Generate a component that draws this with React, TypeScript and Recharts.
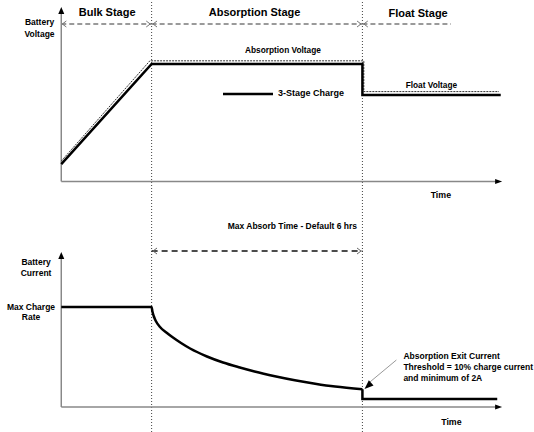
import React from 'react';
import { LineChart, Line, XAxis, YAxis, ReferenceLine, ReferenceDot, Legend } from 'recharts';

// ---------- data ----------
const stageNames = ['Bulk Stage', 'Absorption Stage', 'Float Stage'];
const stageBoundaryHours = [2.58, 8.6];

// battery voltage, 3-stage charge (V)
const voltageHours = [0, 2.58, 8.6, 8.6, 12.55];
const voltageValues = [11.5, 14.4, 14.4, 13.5, 13.5];

// voltage set point (dashed reference: absorption / float voltage)
const setpointHours = [0, 2.53, 8.64, 8.64, 12.5];
const setpointValues = [11.59, 14.49, 14.49, 13.6, 13.6];

// battery current (% of max charge rate)
const currentHours = [0, 2.58, 2.6, 2.64, 2.7, 2.82, 3.0, 3.19, 3.42, 3.68, 4.16, 4.62, 5.1, 5.52, 6.1, 6.67, 7.25, 7.82, 8.6, 8.6, 12.45];
const currentValues = [100, 100, 96, 91, 86, 80, 74.5, 69.5, 64, 58.5, 50.5, 44.5, 39.5, 35.5, 30.8, 26.8, 23.3, 20.4, 17.7, 8, 8];

const seriesName = '3-Stage Charge';
const voltageAxisLabel = ['Battery', 'Voltage'];
const currentAxisLabel = ['Battery', 'Current'];
const currentTickLabel = ['Max Charge', 'Rate'];
const timeLabel = 'Time';
const absorptionVoltageLabel = 'Absorption Voltage';
const floatVoltageLabel = 'Float Voltage';
const maxAbsorbLabel = 'Max Absorb Time - Default 6 hrs';
const exitCurrentLabel = ['Absorption Exit Current', 'Threshold = 10% charge current', 'and minimum of 2A'];

const voltageData = voltageHours.map((t, i) => ({ t, v: voltageValues[i] }));
const setpointData = setpointHours.map((t, i) => ({ t, v: setpointValues[i] }));
const currentData = currentHours.map((t, i) => ({ t, c: currentValues[i] }));
// split at the drop to float so the decay can be drawn smooth and the step sharp
const dropIndex = currentHours.findIndex((t, i) => i > 0 && t === currentHours[i - 1]);
const currentDecay = currentData.slice(0, dropIndex);
const currentFloat = currentData.slice(dropIndex - 1);

// ---------- layout (data units) ----------
const T_DOMAIN: [number, number] = [-1.75, 13.5];
const V_DOMAIN: [number, number] = [3.75, 16.25];
const I_DOMAIN: [number, number] = [-25, 407];
const V_ORIGIN = 11.0;
const V_TOP = 16.05;
const I_TOP = 155;
const T_END = 12.59;
const STAGE_ROW_V = 15.556;
const STAGE_ROW_END = 11.13;
const ABSORB_ROW_I = 156;

const FONT = '"Liberation Sans", Arial, Helvetica, sans-serif';

const textShape = (lines: string[], size: number, anchor: string = 'middle', lh: number = 11) => (p: any) => (
  <text x={p.cx} y={p.cy} textAnchor={anchor} fontFamily={FONT} fontWeight="bold" fontSize={size} fill="#000">
    {lines.map((l, i) => (
      <tspan key={i} x={p.cx} dy={i === 0 ? 0 : lh}>{l}</tspan>
    ))}
  </text>
);

const triUp = (p: any) => (
  <polygon points={`${p.cx},${p.cy} ${p.cx - 3},${p.cy + 7} ${p.cx + 3},${p.cy + 7}`} fill="#000" />
);
const triRight = (p: any) => (
  <polygon points={`${p.cx},${p.cy} ${p.cx - 7},${p.cy - 2.5} ${p.cx - 7},${p.cy + 2.5}`} fill="#000" />
);
const chevron = (dir: 'left' | 'right', color: string) => (p: any) => {
  const s = dir === 'left' ? 1 : -1;
  return (
    <polyline
      points={`${p.cx + s * 4},${p.cy - 3} ${p.cx},${p.cy} ${p.cx + s * 4},${p.cy + 3}`}
      fill="none"
      stroke={color}
      strokeWidth={1}
    />
  );
};
const pointer = (angle: number) => (p: any) => (
  <polygon points="0,0 -9,-3.5 -9,3.5" fill="#000" transform={`translate(${p.cx},${p.cy}) rotate(${angle})`} />
);

const renderLegend = (props: any) => {
  const items = (props.payload || []).filter((it: any) => it.type !== 'none');
  return (
    <div style={{ display: 'flex', alignItems: 'center' }}>
      {items.map((it: any) => (
        <div key={it.value} style={{ display: 'flex', alignItems: 'center' }}>
          <svg width={50} height={6} style={{ display: 'block' }}>
            <line x1={0} y1={3} x2={50} y2={3} stroke={it.color} strokeWidth={2.5} />
          </svg>
          <span style={{ marginLeft: 5, fontFamily: FONT, fontWeight: 'bold', fontSize: 9, color: '#000', lineHeight: '11px', whiteSpace: 'nowrap' }}>
            {it.value}
          </span>
        </div>
      ))}
    </div>
  );
};

const AXIS = '#888';

export default function App() {
  const stageMid = [
    (0 + stageBoundaryHours[0]) / 2 + 0.02,
    (stageBoundaryHours[0] + stageBoundaryHours[1]) / 2 - 0.07,
    10.19,
  ];
  const stageBase = [15.8, 15.78, 15.75];
  return (
    <div style={{ position: 'absolute', left: 0, top: 0, width: 534, height: 432, background: '#fff' }}>
      <LineChart width={534} height={432} margin={{ top: 0, right: 0, bottom: 0, left: 0 }}>
        <XAxis type="number" dataKey="t" domain={T_DOMAIN} allowDataOverflow hide />
        <YAxis yAxisId="v" type="number" domain={V_DOMAIN} allowDataOverflow hide />
        <YAxis yAxisId="i" type="number" domain={I_DOMAIN} allowDataOverflow hide />

        {/* stage boundaries */}
        {stageBoundaryHours.map((t) => (
          <ReferenceLine key={t} x={t} yAxisId="v" stroke="#444" strokeWidth={1} strokeDasharray="1 2" />
        ))}

        {/* stage arrows row */}
        <ReferenceLine yAxisId="v" segment={[{ x: 0, y: STAGE_ROW_V }, { x: stageBoundaryHours[0], y: STAGE_ROW_V }]} stroke="#7a7a7a" strokeWidth={1.5} strokeDasharray="5 3" />
        <ReferenceLine yAxisId="v" segment={[{ x: stageBoundaryHours[0], y: STAGE_ROW_V }, { x: stageBoundaryHours[1], y: STAGE_ROW_V }]} stroke="#7a7a7a" strokeWidth={1.5} strokeDasharray="5 3" />
        <ReferenceLine yAxisId="v" segment={[{ x: stageBoundaryHours[1], y: STAGE_ROW_V }, { x: STAGE_ROW_END, y: STAGE_ROW_V }]} stroke="#7a7a7a" strokeWidth={1.5} strokeDasharray="5 3" />
        <ReferenceDot yAxisId="v" x={0.03} y={STAGE_ROW_V} shape={chevron('left', '#777')} />
        <ReferenceDot yAxisId="v" x={stageBoundaryHours[0] - 0.04} y={STAGE_ROW_V} shape={chevron('right', '#777')} />
        <ReferenceDot yAxisId="v" x={stageBoundaryHours[0] + 0.04} y={STAGE_ROW_V} shape={chevron('left', '#777')} />
        <ReferenceDot yAxisId="v" x={stageBoundaryHours[1] - 0.04} y={STAGE_ROW_V} shape={chevron('right', '#777')} />
        <ReferenceDot yAxisId="v" x={stageBoundaryHours[1] + 0.04} y={STAGE_ROW_V} shape={chevron('left', '#777')} />

        {stageNames.map((n, i) => (
          <ReferenceDot key={n} yAxisId="v" x={stageMid[i]} y={stageBase[i]} shape={textShape([n], 11)} />
        ))}

        {/* voltage axes */}
        <ReferenceLine yAxisId="v" segment={[{ x: 0, y: V_ORIGIN }, { x: 0, y: V_TOP - 0.1 }]} stroke={AXIS} strokeWidth={1.5} />
        <ReferenceLine yAxisId="v" segment={[{ x: 0, y: V_ORIGIN }, { x: T_END - 0.1, y: V_ORIGIN }]} stroke={AXIS} strokeWidth={1.5} />
        <ReferenceDot yAxisId="v" x={0} y={V_TOP} shape={triUp} />
        <ReferenceDot yAxisId="v" x={T_END} y={V_ORIGIN} shape={triRight} />
        <ReferenceDot yAxisId="v" x={-0.62} y={15.53} shape={textShape(voltageAxisLabel, 8.5, 'middle', 11.8)} />
        <ReferenceDot yAxisId="v" x={10.84} y={10.52} shape={textShape([timeLabel], 8.8)} />
        <ReferenceDot yAxisId="v" x={6.33} y={14.73} shape={textShape([absorptionVoltageLabel], 8.3)} />
        <ReferenceDot yAxisId="v" x={10.57} y={13.71} shape={textShape([floatVoltageLabel], 8.3)} />

        {/* current axes */}
        <ReferenceLine yAxisId="i" segment={[{ x: 0, y: 0 }, { x: 0, y: I_TOP - 3 }]} stroke={AXIS} strokeWidth={1.5} />
        <ReferenceLine yAxisId="i" segment={[{ x: 0, y: 0 }, { x: T_END - 0.1, y: 0 }]} stroke={AXIS} strokeWidth={1.5} />
        <ReferenceDot yAxisId="i" x={0} y={I_TOP} shape={triUp} />
        <ReferenceDot yAxisId="i" x={T_END} y={0} shape={triRight} />
        <ReferenceDot yAxisId="i" x={-0.72} y={142.5} shape={textShape(currentAxisLabel, 8.5, 'middle', 11)} />
        <ReferenceDot yAxisId="i" x={-0.865} y={97.5} shape={textShape(currentTickLabel, 8.5, 'middle', 10.5)} />
        <ReferenceDot yAxisId="i" x={11.14} y={-17.5} shape={textShape([timeLabel], 8.8)} />

        {/* max absorb time */}
        <ReferenceLine yAxisId="i" segment={[{ x: stageBoundaryHours[0], y: ABSORB_ROW_I }, { x: stageBoundaryHours[1], y: ABSORB_ROW_I }]} stroke="#111" strokeWidth={1.3} strokeDasharray="6 4" />
        <ReferenceDot yAxisId="i" x={stageBoundaryHours[0] + 0.04} y={ABSORB_ROW_I} shape={chevron('left', '#666')} />
        <ReferenceDot yAxisId="i" x={stageBoundaryHours[1] - 0.04} y={ABSORB_ROW_I} shape={chevron('right', '#666')} />
        <ReferenceDot yAxisId="i" x={6.6} y={178.3} shape={textShape([maxAbsorbLabel], 8.5)} />

        {/* exit current annotation */}
        <ReferenceLine yAxisId="i" segment={[{ x: 9.57, y: 47 }, { x: 8.78, y: 24 }]} stroke="#999" strokeWidth={1} />
        <ReferenceDot yAxisId="i" x={8.66} y={18} shape={pointer(137.8)} />
        <ReferenceDot yAxisId="i" x={9.77} y={48.5} shape={textShape(exitCurrentLabel, 8.5, 'start', 11.3)} />

        {/* series */}
        <Line yAxisId="v" data={setpointData} dataKey="v" type="linear" stroke="#333" strokeWidth={1} strokeDasharray="2 1" dot={false} activeDot={false} legendType="none" isAnimationActive={false} />
        <Line yAxisId="v" data={voltageData} dataKey="v" name={seriesName} type="linear" stroke="#000" strokeWidth={2.5} dot={false} activeDot={false} legendType="plainline" isAnimationActive={false} />
        <Line yAxisId="i" data={currentDecay} dataKey="c" type="monotone" stroke="#000" strokeWidth={2.5} dot={false} activeDot={false} legendType="none" isAnimationActive={false} />
        <Line yAxisId="i" data={currentFloat} dataKey="c" type="linear" stroke="#000" strokeWidth={2.5} dot={false} activeDot={false} legendType="none" isAnimationActive={false} />

        <Legend layout="vertical" align="center" verticalAlign="middle" wrapperStyle={{ left: 223, top: 88, width: 'auto', height: 'auto' }} content={renderLegend} />
      </LineChart>
    </div>
  );
}
